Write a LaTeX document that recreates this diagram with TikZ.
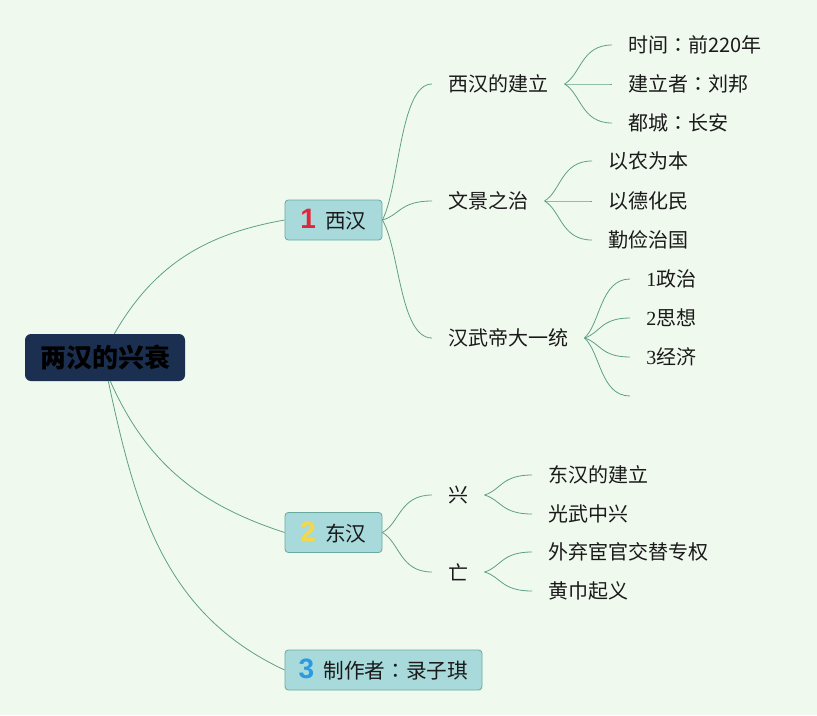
\documentclass[tikz,border=0pt]{standalone}
\usepackage{fontspec}
\newfontfamily\cjk{Noto Sans CJK SC}
\newfontfamily\cjktc{Noto Sans CJK TC}
\newfontfamily\numfont{Liberation Sans}
\newfontfamily\serifnum{Liberation Serif}
\usetikzlibrary{calc}
\definecolor{bgcol}{HTML}{F0F9EE}
\definecolor{linecol}{HTML}{5E9F89}
\definecolor{boxfill}{HTML}{A8D9DB}
\definecolor{boxline}{HTML}{6AA99F}
\definecolor{rootfill}{HTML}{1B3050}
\definecolor{textcol}{HTML}{1A1A1A}
\definecolor{numred}{HTML}{E3243B}
\definecolor{numyellow}{HTML}{F5D84A}
\definecolor{numblue}{HTML}{2A9BE1}
\tikzset{
  link/.style     = {draw=linecol, line width=0.6pt},
  branch/.style   = {link, to path={let \p1=(\tikztostart), \p2=(\tikztotarget) in
                     .. controls ({\x1+0.35*(\x2-\x1)},{\y1+0.25*(\y2-\y1)})
                     and ({\x1+0.35*(\x2-\x1)},\y2) .. (\tikztotarget)}},
  rootbox/.style  = {fill=rootfill, rounded corners=4.5pt, minimum width=120pt,
                     minimum height=35.25pt, inner sep=0pt, text=black,
                     font=\cjk\bfseries\fontsize{19.5}{22}\selectfont},
  mainbox/.style  = {draw=boxline, fill=boxfill, rounded corners=2.5pt,
                     line width=0.6pt, minimum height=30pt, inner sep=0pt,
                     text=textcol, font=\cjk\fontsize{15.5}{18}\selectfont},
  topic/.style    = {anchor=west, inner xsep=12pt, inner ysep=1pt, text=textcol,
                     font=\cjk\fontsize{15}{18}\selectfont},
}
\newcommand{\boxnum}[2]{{\numfont\bfseries\fontsize{21}{22}\selectfont\textcolor{#1}{#2}}\hspace{7pt}}
\newcommand{\sn}[1]{{\serifnum #1}}
\newcommand{\qcol}{{\cjktc ：}}

\begin{document}
\begin{tikzpicture}[x=0.75pt, y=-0.75pt]
\fill[bgcol] (0,0) rectangle (817,715);

% ========== root ==========
\node[rootbox] (root) at (105,357.5) {两汉的兴衰};

% ========== main branches ==========
\node[mainbox, minimum width=72.75pt] (xh) at (333.5,220) {\boxnum{numred}{1}西汉};
\node[mainbox, minimum width=72.75pt] (dh) at (333.5,532.5) {\boxnum{numyellow}{2}东汉};
\node[mainbox, minimum width=147.75pt] (zz) at (383.5,670) {\boxnum{numblue}{3}制作者\qcol 录子琪};

\draw[link] ([xshift=7pt]root.north) to[out=60, in=190] (xh.west);
\draw[link] ([xshift=4pt]root.south) to[out=-66, in=162] (dh.west);
\draw[link] ([xshift=2.5pt]root.south) to[out=-78, in=155] (zz.west);

% ========== Western Han ==========
\node[topic] (jl) at (432,84)  {西汉的建立};
\node[topic] (wj) at (432,201) {文景之治};
\node[topic] (hw) at (432,338) {汉武帝大一统};
\foreach \sub in {jl, wj, hw}
  \draw[branch] (xh.east) to (\sub.west);

\foreach \yy/\t [count=\i] in {45/时间\qcol 前220年, 84/建立者\qcol 刘邦, 123/都城\qcol 长安} {
  \node[topic] (jl\i) at (612,\yy) {\t};
  \draw[branch] (jl.east) to (jl\i.west);
}
\foreach \yy/\t [count=\i] in {161/以农为本, 201/以德化民, 240/勤俭治国} {
  \node[topic] (wj\i) at (592,\yy) {\t};
  \draw[branch] (wj.east) to (wj\i.west);
}
\foreach \yy/\t [count=\i] in {279/\sn{1}政治, 318/\sn{2}思想, 357/\sn{3}经济} {
  \node[topic] (hw\i) at (630,\yy) {\t};
  \draw[branch] (hw.east) to (hw\i.west);
}
\coordinate (hw4) at (630,396);
\draw[branch] (hw.east) to (hw4);

% ========== Eastern Han ==========
\node[topic] (xing) at (432,495) {兴};
\node[topic] (wang) at (432,572) {亡};
\foreach \sub in {xing, wang}
  \draw[branch] (dh.east) to (\sub.west);

\foreach \yy/\t [count=\i] in {475/东汉的建立, 514/光武中兴} {
  \node[topic] (xing\i) at (532,\yy) {\t};
  \draw[branch] (xing.east) to (xing\i.west);
}
\foreach \yy/\t [count=\i] in {552/外弃宦官交替专权, 591/黄巾起义} {
  \node[topic] (wang\i) at (532,\yy) {\t};
  \draw[branch] (wang.east) to (wang\i.west);
}

\end{tikzpicture}
\end{document}
